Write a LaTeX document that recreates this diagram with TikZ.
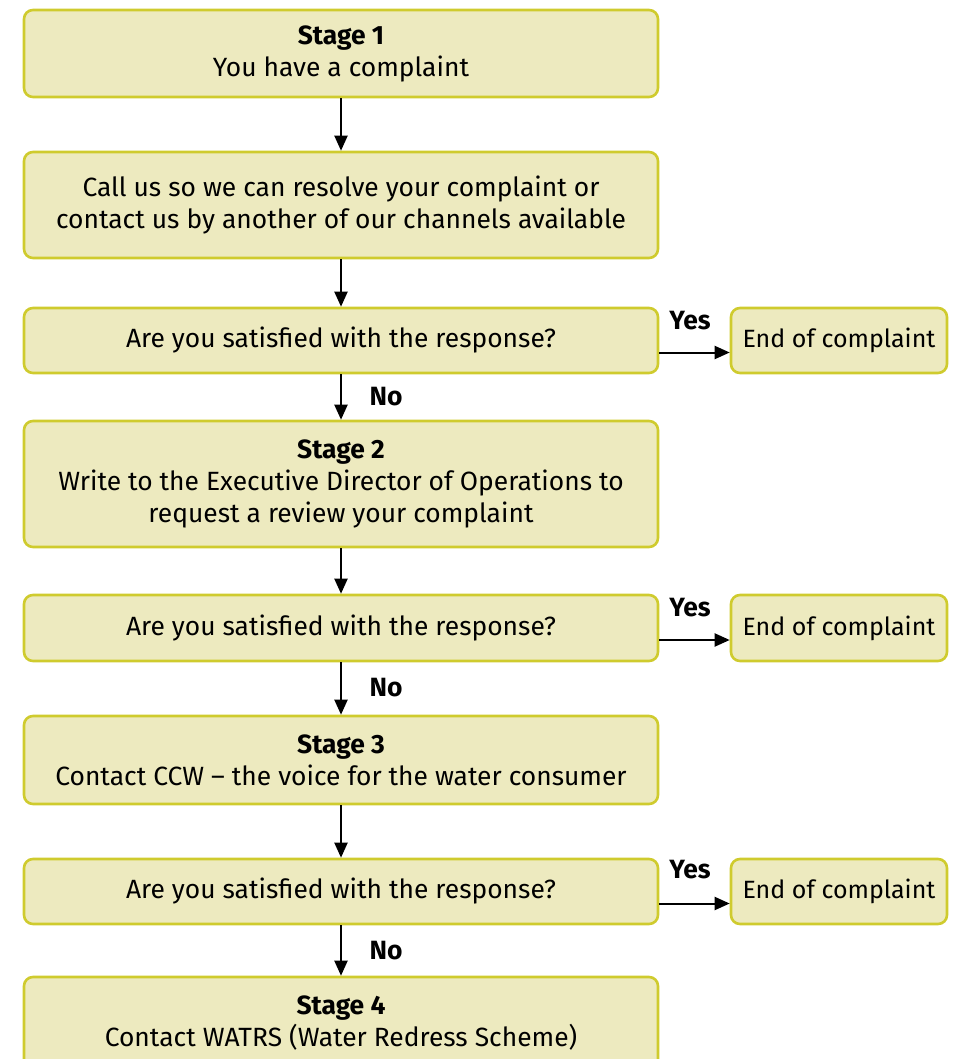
\documentclass[tikz,border=0pt]{standalone}
\usepackage{fontspec}
\setmainfont{Fira Sans}
\usetikzlibrary{arrows.meta}
\definecolor{boxfill}{HTML}{EDEABF}
\definecolor{boxline}{HTML}{CFCB2E}
\tikzset{
  stepbox/.style={draw=boxline, fill=boxfill, line width=2.6pt, rounded corners=9pt,
    minimum width=634pt, align=center, inner sep=0pt, font=\fontsize{26.4}{32}\selectfont},
  endbox/.style={stepbox, minimum width=216pt, font=\fontsize{25}{30}\selectfont},
  flow/.style={-{Triangle[length=15pt,width=13pt]}, line width=2pt},
  lab/.style={font=\fontsize{26.4}{30}\selectfont\bfseries, inner sep=0pt}
}
\begin{document}
\begin{tikzpicture}[x=1pt,y=-1pt]
\useasboundingbox (0,0) rectangle (959,1059);
\clip (0,0) rectangle (959,1059);
\node[stepbox, minimum height=87pt] (s1) at (341,53.5) {\textbf{Stage 1}\\You have a complaint};
\node[stepbox, minimum height=106pt] (c1) at (341,205) {Call us so we can resolve your complaint or\\contact us by another of our channels available};
\node[stepbox, minimum height=65pt] (q1) at (341,340.5) {Are you satisfied with the response?};
\node[endbox, minimum height=65pt] (e1) at (839,340.5) {End of complaint};
\node[stepbox, minimum height=126pt] (s2) at (341,484) {\textbf{Stage 2}\\Write to the Executive Director of Operations to\\request a review your complaint};
\node[stepbox, minimum height=66pt] (q2) at (341,628) {Are you satisfied with the response?};
\node[endbox, minimum height=66pt] (e2) at (839,628) {End of complaint};
\node[stepbox, minimum height=88pt] (s3) at (341,760) {\textbf{Stage 3}\\Contact CCW -- the voice for the water consumer};
\node[stepbox, minimum height=65pt] (q3) at (341,891.5) {Are you satisfied with the response?};
\node[endbox, minimum height=65pt] (e3) at (839,891.5) {End of complaint};
\node[stepbox, minimum height=93pt] (s4) at (341,1023.5) {\textbf{Stage 4}\\Contact WATRS (Water Redress Scheme)};
\draw[flow] (s1) -- (c1);
\draw[flow] (c1) -- (q1);
\draw[flow] (q1) -- (s2);
\draw[flow] (s2) -- (q2);
\draw[flow] (q2) -- (s3);
\draw[flow] (s3) -- (q3);
\draw[flow] (q3) -- (s4);
\draw[flow] ([yshift=-12pt]q1.east) -- ([yshift=-12pt]e1.west);
\draw[flow] ([yshift=-12pt]q2.east) -- ([yshift=-12pt]e2.west);
\draw[flow] ([yshift=-12pt]q3.east) -- ([yshift=-12pt]e3.west);
\node[lab] (y1) at (690,321) {Yes};
\node[lab] (y2) at (690,608) {Yes};
\node[lab] (y3) at (690,870) {Yes};
\node[lab] (n1) at (386,397) {No};
\node[lab] (n2) at (386,688) {No};
\node[lab] (n3) at (386,951) {No};
\end{tikzpicture}
\end{document}
